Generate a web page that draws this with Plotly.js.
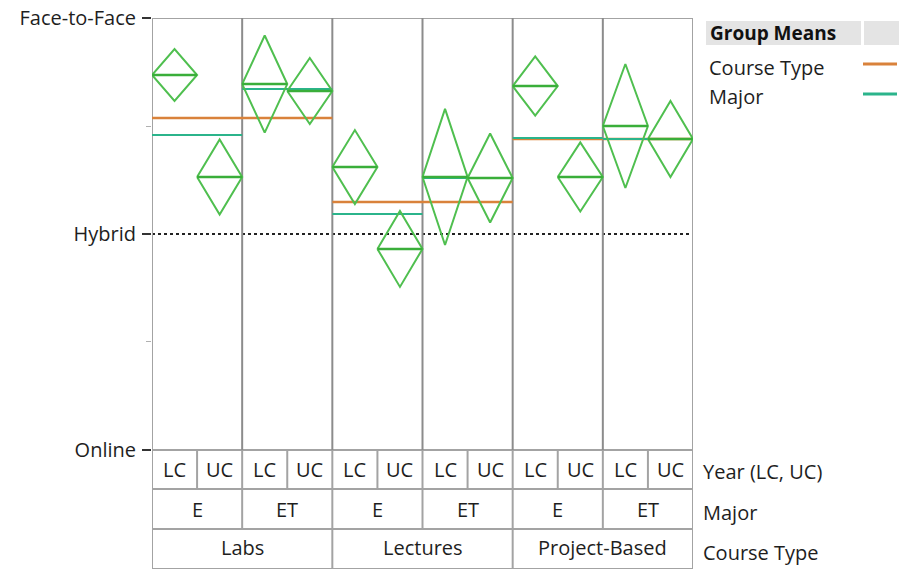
<!DOCTYPE html>
<html>
<head>
<meta charset="utf-8">
<script src="https://cdn.plot.ly/plotly-3.0.1.min.js"></script>
<style>html,body{margin:0;padding:0;background:#fff;}#chart{width:899px;height:569px;}</style>
</head>
<body>
<div id="chart"></div>
<script>
// ---- data ----
const years = ['LC', 'UC'];
const majors = ['E', 'ET'];
const courseTypes = ['Labs', 'Lectures', 'Project-Based'];
const yTickVals = [1, 2, 3];
const yTickText = ['Online', 'Hybrid', 'Face-to-Face'];
// cell means (Course Type > Major > Year) and diamond half-heights
const cellMeans = [2.736, 2.264, 2.694, 2.662, 2.310, 1.931, 2.264, 2.259, 2.685, 2.264, 2.500, 2.440];
const cellHalf  = [0.120, 0.174, 0.225, 0.153, 0.171, 0.176, 0.315, 0.206, 0.137, 0.160, 0.287, 0.176];
const courseMeans = [2.537, 2.148, 2.440];
const majorMeans = [2.458, 2.671, 2.093, 2.259, 2.444, 2.440];
const legendTitle = 'Group Means';
const legendItems = ['Course Type', 'Major'];
const rowLabels = ['Year (LC, UC)', 'Major', 'Course Type'];

// ---- geometry helpers ----
const W = 899, H = 569, L = 152, R = 693, T = 18, B = 569;
const nCells = cellMeans.length;
const yBottom = 0.449;
const rowY = [1, 0.8194, 0.6343, yBottom];
const px = x => (x - L) / (R - L);
const py = y => (B - y) / (B - T);

const FONT = 'Open Sans, Noto Sans, sans-serif';
const FS = 20;
const TXT = '#1e1e1e';
const GREEN = '#4fbf4f', GREEN_D = '#3aae3a', ORANGE = '#d9823b', TEAL = '#2bb48b';
const GRID = '#a3a3a3';

// group mean lines
const cx = [], cy = [];
courseMeans.forEach((m, k) => { const x0 = k * 4; cx.push(x0, x0 + 4, null); cy.push(m, m, null); });
const mx = [], my = [];
majorMeans.forEach((m, k) => { const x0 = k * 2; mx.push(x0, x0 + 2, null); my.push(m, m, null); });

// diamonds
const dx = [], dy = [], lx = [], ly = [];
cellMeans.forEach((m, i) => {
  const h = cellHalf[i];
  dx.push(i, i + 0.5, i + 1, i + 0.5, i, null);
  dy.push(m, m + h, m, m - h, m, null);
  lx.push(i, i + 1, null); ly.push(m, m, null);
});

const traces = [
  {x: cx, y: cy, mode: 'lines', line: {color: ORANGE, width: 2.5}, hoverinfo: 'skip'},
  {x: mx, y: my, mode: 'lines', line: {color: TEAL, width: 2}, hoverinfo: 'skip'},
  {x: dx, y: dy, mode: 'lines', line: {color: GREEN, width: 2}, hoverinfo: 'skip'},
  {x: lx, y: ly, mode: 'lines', line: {color: GREEN_D, width: 2.5}, hoverinfo: 'skip'}
];

const shapes = [];
const annotations = [];
// hybrid dotted reference line
shapes.push({type: 'line', xref: 'x', yref: 'y', x0: 0, x1: nCells - 0.05, y0: 2, y1: 2,
  line: {color: '#222', width: 2, dash: 'dot'}, layer: 'below'});
// frame
shapes.push({type: 'rect', xref: 'x', yref: 'y', x0: 0, x1: nCells, y0: yBottom, y1: 3,
  line: {color: GRID, width: 2}, layer: 'below'});
// horizontal table lines
[rowY[0], rowY[1], rowY[2]].forEach(y => shapes.push({type: 'line', xref: 'x', yref: 'y',
  x0: 0, x1: nCells, y0: y, y1: y, line: {color: GRID, width: 2}, layer: 'below'}));
// vertical lines
for (let i = 1; i < nCells; i++) {
  let y0, y1 = rowY[0], col = GRID;
  if (i % 4 === 0) { y0 = yBottom; y1 = 3; col = '#8c8c8c'; }
  else if (i % 2 === 0) { y0 = rowY[2]; y1 = 3; col = '#8c8c8c'; }
  else { y0 = rowY[1]; y1 = rowY[0]; }
  if (y1 === 3) {
    shapes.push({type: 'line', xref: 'x', yref: 'y', x0: i, x1: i, y0: 1, y1: 3, line: {color: col, width: 2}, layer: 'below'});
    shapes.push({type: 'line', xref: 'x', yref: 'y', x0: i, x1: i, y0: y0, y1: 1, line: {color: GRID, width: 2}, layer: 'below'});
  } else {
    shapes.push({type: 'line', xref: 'x', yref: 'y', x0: i, x1: i, y0: y0, y1: y1, line: {color: GRID, width: 2}, layer: 'below'});
  }
}
// table labels
const tf = {family: FONT, size: FS, color: TXT};
for (let i = 0; i < nCells; i++) annotations.push({xref: 'x', yref: 'y', x: i + 0.5, y: (rowY[0] + rowY[1]) / 2,
  text: years[i % 2], showarrow: false, font: tf});
for (let k = 0; k < nCells / 2; k++) annotations.push({xref: 'x', yref: 'y', x: k * 2 + 1, y: (rowY[1] + rowY[2]) / 2,
  text: majors[k % 2], showarrow: false, font: tf, yshift: -1});
courseTypes.forEach((c, k) => annotations.push({xref: 'x', yref: 'y', x: k * 4 + 2, y: (rowY[2] + rowY[3]) / 2,
  text: c, showarrow: false, font: tf, yshift: 1}));
rowLabels.forEach((t, r) => annotations.push({xref: 'paper', yref: 'y', x: px(701), xanchor: 'left',
  y: (rowY[r] + rowY[r + 1]) / 2, yshift: r === 0 ? -2 : -4, text: t, showarrow: false, font: tf}));

// legend
shapes.push({type: 'rect', xref: 'paper', yref: 'paper', x0: px(706), x1: px(861), y0: py(45), y1: py(21),
  fillcolor: '#e4e4e4', line: {width: 0}});
shapes.push({type: 'rect', xref: 'paper', yref: 'paper', x0: px(864), x1: px(899), y0: py(45), y1: py(21),
  fillcolor: '#e4e4e4', line: {width: 0}});
annotations.push({xref: 'paper', yref: 'paper', x: px(708), y: py(33), xanchor: 'left', yanchor: 'middle',
  text: '<b>' + legendTitle + '</b>', showarrow: false, font: {family: FONT, size: 19, color: '#111'}});
[ORANGE, TEAL].forEach((c, k) => {
  const yy = [64, 94][k];
  annotations.push({xref: 'paper', yref: 'paper', x: px(707), y: py(yy + 3), xanchor: 'left', yanchor: 'middle',
    text: legendItems[k], showarrow: false, font: tf});
  shapes.push({type: 'line', xref: 'paper', yref: 'paper', x0: px(863), x1: px(897), y0: py(yy), y1: py(yy),
    line: {color: c, width: 3}});
});

const layout = {
  width: W, height: H,
  margin: {l: L, r: W - R, t: T, b: 0, pad: 0},
  paper_bgcolor: '#fff', plot_bgcolor: '#fff',
  showlegend: false,
  xaxis: {range: [0, nCells], visible: false, fixedrange: true},
  yaxis: {range: [yBottom, 3], tickmode: 'array', tickvals: yTickVals, ticktext: yTickText,
    ticks: 'outside', ticklen: 9, tickwidth: 2, tickcolor: '#333', showgrid: false, zeroline: false,
    showline: false, tickfont: {family: FONT, size: FS, color: TXT}, ticklabelstandoff: 2,
    minor: {tickmode: 'array', tickvals: [1.5, 2.5], ticks: 'outside', ticklen: 5, tickwidth: 1, tickcolor: '#b0b0b0', showgrid: false},
    fixedrange: true},
  shapes: shapes,
  annotations: annotations
};

Plotly.newPlot('chart', traces, layout, {staticPlot: true, displayModeBar: false});
</script>
</body>
</html>
